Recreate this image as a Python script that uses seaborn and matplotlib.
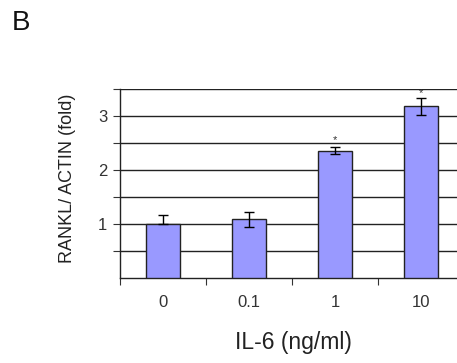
import matplotlib
matplotlib.use("Agg")
import matplotlib.pyplot as plt
from matplotlib.ticker import FuncFormatter, FixedLocator
import seaborn as sns
import pandas as pd
import numpy as np

categories = ["0", "0.1", "1", "10"]
values = [1.00, 1.09, 2.36, 3.18]
err_low = [0.00, 0.14, 0.06, 0.155]
err_high = [0.17, 0.14, 0.06, 0.155]
star_flags = ["", "", "*", "*"]
star_heights = [2.56, 2.56, 2.56, 3.43]

sns.set_theme(style="white")
plt.rcParams["font.family"] = ["Liberation Sans", "DejaVu Sans"]

df = pd.DataFrame({"dose": categories, "ratio": values})

fig = plt.figure(figsize=(4.57, 3.63), dpi=100)
ax = fig.add_axes([120 / 457, 84.7 / 363, 344 / 457, 189.3 / 363])

sns.barplot(data=df, x="dose", y="ratio", order=categories, color="#9999ff",
            saturation=1, width=0.39, edgecolor="#222222", linewidth=1,
            errorbar=None, ax=ax, zorder=3)

xpos = np.arange(len(categories))
ax.errorbar(xpos, values, yerr=[err_low, err_high], fmt="none", ecolor="black",
            elinewidth=1, capsize=3.5, capthick=1, zorder=4)

for x, s, h in zip(xpos, star_flags, star_heights):
    if s:
        ax.text(x, h, s, ha="center", va="center", fontsize=8, color="#333333",
                zorder=5)

ax.set_xlim(-0.5, 3.5)
ax.set_ylim(0, 3.5)

# y axis: ticks every 0.5, labels on integers only
ax.yaxis.set_major_locator(FixedLocator(np.arange(0.5, 3.51, 0.5)))
ax.yaxis.set_major_formatter(FuncFormatter(
    lambda v, p: f"{int(round(v))}" if abs(v - round(v)) < 1e-6 else ""))
ax.grid(axis="y", which="major", color="#222222", linewidth=1)
ax.grid(axis="x", visible=False)
ax.set_axisbelow(True)
ax.tick_params(axis="y", which="major", direction="out", length=5, width=0.8,
               color="#333333", left=True, labelsize=12, labelcolor="#333333",
               pad=4)

# x axis: labels at category centers, tick marks at category boundaries
ax.xaxis.set_major_locator(FixedLocator(xpos))
ax.set_xticklabels(categories, fontsize=12, color="#333333")
ax.xaxis.set_minor_locator(FixedLocator(np.arange(-0.5, 3.51, 1.0)))
ax.tick_params(axis="x", which="major", length=0, pad=12, bottom=True)
ax.tick_params(axis="x", which="minor", direction="out", length=5, width=0.8,
               color="#333333", bottom=True)

for side in ["top", "right"]:
    ax.spines[side].set_visible(False)
for side in ["left", "bottom"]:
    ax.spines[side].set_color("#222222")
    ax.spines[side].set_linewidth(1)

ax.set_xlabel("")
ax.set_ylabel("")
fig.text(67 / 457, 1 - 178 / 363, "RANKL/ ACTIN (fold)", rotation=90,
         ha="center", va="center", fontsize=13, color="#222222")
fig.text(293 / 457, 1 - 342 / 363, "IL-6 (ng/ml)", ha="center", va="center",
         fontsize=16.5, color="#222222")
fig.text(12 / 457, 1 - 23 / 363, "B", ha="left", va="center", fontsize=20,
         color="#111111")

fig.savefig("out.png", dpi=100)
